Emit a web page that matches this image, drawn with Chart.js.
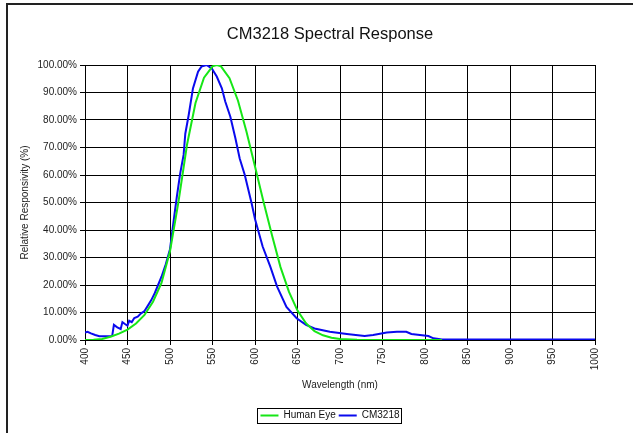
<!DOCTYPE html>
<html>
<head>
<meta charset="utf-8">
<title>CM3218 Spectral Response</title>
<script src="https://cdn.jsdelivr.net/npm/chart.js@4.4.1/dist/chart.umd.min.js"></script>
<style>
  html, body { margin: 0; padding: 0; background: #fff; }
</style>
</head>
<body>
<canvas id="chart" width="633" height="433"></canvas>
<script>
// wavelengths (nm) and relative response (%)
const humanEyeNm  = [400, 410, 420, 430, 440, 450, 460, 470, 480, 490, 500, 510, 520, 530, 540, 550, 555, 560, 570, 580, 590, 600, 610, 620, 630, 640, 650, 660, 670, 680, 690, 700, 720, 750, 800, 820];
const humanEyeVal = [0.04, 0.12, 0.4, 1.16, 2.3, 3.8, 6, 9.1, 13.9, 20.8, 32.3, 50.3, 71, 86.2, 95.4, 99.5, 100, 99.5, 95.2, 87, 75.7, 63.1, 50.3, 38.1, 26.5, 17.5, 10.7, 6.1, 3.2, 1.7, 0.8, 0.4, 0.1, 0, 0, 0];

const cm3218Nm  = [400, 403, 407, 412, 417, 425, 432, 434, 438, 442, 444, 447, 450, 452, 455, 458, 462, 466, 470, 474, 478, 482, 486, 490, 495, 500, 505, 508, 512, 516, 518, 522, 527, 533, 537, 543, 549, 555, 561, 565, 571, 577, 582, 588, 596, 600, 609, 618, 626, 637, 649, 660, 670, 688, 708, 729, 739, 755, 767, 778, 784, 794, 804, 810, 820, 850, 1000];
const cm3218Val = [2.7, 3.0, 2.4, 1.8, 1.4, 1.4, 1.5, 5.5, 4.6, 4.0, 6.5, 5.8, 5.2, 7.0, 6.5, 8.0, 8.5, 9.7, 10.5, 12.5, 14.5, 17, 20, 23, 27.5, 33, 45, 52, 60.6, 67.3, 75, 81.8, 91.5, 97.6, 99.4, 100, 98.8, 95.8, 91.5, 86.7, 81.2, 73.3, 66, 60, 49.7, 44, 34, 26.7, 19.4, 12, 7.9, 5.5, 4.2, 3, 2.2, 1.45, 1.8, 2.7, 3.0, 3.0, 2.2, 1.8, 1.45, 0.6, 0.2, 0.2, 0.2];

const xTicksMin = 400, xTicksMax = 1000, xStep = 50;
const yTicksMin = 0, yTicksMax = 100, yStep = 10;

const FONT = "'Liberation Sans', Arial, sans-serif";

function toPoints(xs, ys) {
  return xs.map((x, i) => ({ x: x, y: ys[i] }));
}

// outer chart frame + box round the legend
const framePlugin = {
  id: 'frame',
  afterDraw(chart) {
    const ctx = chart.ctx;
    ctx.save();
    ctx.strokeStyle = '#222';
    ctx.lineWidth = 2;
    ctx.beginPath();
    ctx.moveTo(7, chart.height);
    ctx.lineTo(7, 4);
    ctx.lineTo(chart.width, 4);
    ctx.stroke();

    const boxes = chart.legend.legendHitBoxes;
    if (boxes && boxes.length) {
      let l = Infinity, r = -Infinity, t = Infinity, b = -Infinity;
      boxes.forEach(h => {
        l = Math.min(l, h.left); r = Math.max(r, h.left + h.width);
        t = Math.min(t, h.top); b = Math.max(b, h.top + h.height);
      });
      ctx.lineWidth = 1;
      ctx.strokeStyle = '#000';
      ctx.strokeRect(Math.round(l - 3) + 0.5, Math.round(t - 2.5) + 0.5, Math.round(r - l + 5), Math.round(b - t + 5));
    }
    ctx.restore();
  }
};

const ctx = document.getElementById('chart').getContext('2d');
new Chart(ctx, {
  type: 'line',
  data: {
    datasets: [
      {
        label: 'Human Eye',
        data: toPoints(humanEyeNm, humanEyeVal),
        borderColor: '#16e616',
        backgroundColor: '#16e616',
        borderWidth: 2,
        pointRadius: 0,
        tension: 0
      },
      {
        label: 'CM3218',
        data: toPoints(cm3218Nm, cm3218Val),
        borderColor: '#0a0aee',
        backgroundColor: '#0a0aee',
        borderWidth: 2,
        pointRadius: 0,
        tension: 0
      }
    ]
  },
  options: {
    responsive: false,
    animation: false,
    layout: { padding: { left: 27, right: 0, top: 0, bottom: 2.5 } },
    plugins: {
      title: {
        display: true,
        text: 'CM3218 Spectral Response',
        color: '#111',
        font: { family: FONT, size: 16.5, weight: 'normal' },
        padding: { top: 24.5, bottom: 20.7 }
      },
      legend: {
        display: true,
        position: 'bottom',
        labels: {
          color: '#111',
          font: { family: FONT, size: 10 },
          boxWidth: 18,
          boxHeight: 2,
          padding: 3,
          // flat line swatch, no outline
          generateLabels: chart => Chart.defaults.plugins.legend.labels.generateLabels(chart)
            .map(item => Object.assign(item, { lineWidth: 0 }))
        }
      },
      tooltip: { enabled: false }
    },
    scales: {
      x: {
        type: 'linear',
        min: xTicksMin,
        max: xTicksMax,
        ticks: {
          stepSize: xStep,
          minRotation: 90,
          maxRotation: 90,
          padding: 3,
          color: '#222',
          font: { family: FONT, size: 10 },
          callback: v => String(v)
        },
        grid: { color: '#000', lineWidth: 1, tickLength: 5 },
        border: { color: '#000' },
        title: {
          display: true,
          text: 'Wavelength (nm)',
          color: '#222',
          font: { family: FONT, size: 10 },
          padding: { top: 0, bottom: 16.5 }
        },
        afterFit: s => { s.height = 67.5; }
      },
      y: {
        min: yTicksMin,
        max: yTicksMax,
        ticks: {
          stepSize: yStep,
          padding: 3,
          color: '#222',
          font: { family: FONT, size: 10 },
          callback: v => v.toFixed(2) + '%'
        },
        grid: { color: '#000', lineWidth: 1, tickLength: 5 },
        border: { color: '#000' },
        title: {
          display: true,
          text: 'Relative Responsivity (%)',
          color: '#222',
          font: { family: FONT, size: 10 },
          padding: { top: -8, bottom: 0 }
        },
        afterFit: s => { s.width = 58; }
      },
      // empty right-hand axis, only keeps space right of the plot
      yRight: {
        position: 'right',
        min: 0,
        max: 1,
        ticks: { display: false },
        grid: { display: false },
        border: { display: false },
        afterFit: s => { s.width = 38; }
      }
    }
  },
  plugins: [framePlugin]
});
</script>
</body>
</html>
